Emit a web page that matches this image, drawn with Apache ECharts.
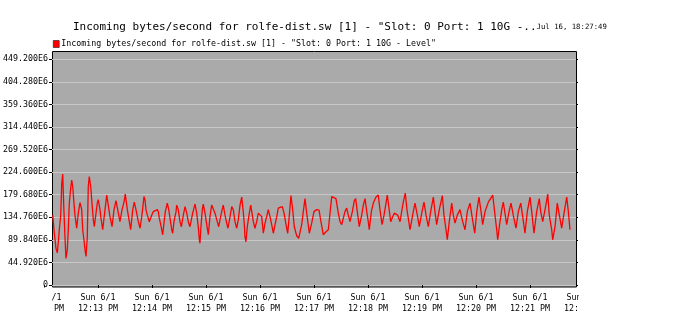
<!DOCTYPE html>
<html><head><meta charset="utf-8">
<script src="https://cdn.jsdelivr.net/npm/echarts@6/dist/echarts.min.js"></script>
<style>html,body{margin:0;padding:0;background:#fff}#c{width:686px;height:333px}</style>
</head><body><div id="c"></div>
<script>
const titleMain = 'Incoming bytes/second for rolfe-dist.sw [1] - "Slot: 0 Port: 1 10G -..';
const titleDate = 'Jul 16, 18:27:49';
const seriesName = 'Incoming bytes/second for rolfe-dist.sw [1] - "Slot: 0 Port: 1 10G - Level"';
const dayLabel = 'Sun 6/1';
const xTickLabels = ['12:12 PM','12:13 PM','12:14 PM','12:15 PM','12:16 PM','12:17 PM','12:18 PM','12:19 PM','12:20 PM','12:21 PM','12:22 PM'];
const yStep = 44920000;
const yMax = 449200000;
// seconds after 12:12:00 PM
const secs = [9.7,11.1,13.3,14.8,15.9,17.0,18.6,19.7,20.8,21.9,23.3,24.4,25.9,27.0,28.1,29.7,30.8,31.9,33.3,34.4,35.6,36.3,38.1,40.0,41.1,41.9,43.0,44.4,45.6,46.7,48.1,49.2,50.3,51.9,53.3,54.8,55.9,57.8,59.2,60.3,62.2,63.3,65.2,67.8,69.7,71.4,73.3,75.6,77.8,80.0,81.9,84.4,86.7,88.9,90.3,92.6,94.8,96.3,98.6,100.3,102.2,104.8,106.7,108.6,109.7,111.1,112.2,113.3,114.8,117.0,119.7,121.4,123.3,125.9,127.0,128.1,129.7,130.8,131.9,133.3,134.8,137.0,138.6,140.0,141.9,143.0,144.4,146.7,147.4,149.2,151.1,152.6,154.8,156.7,158.6,160.3,162.2,165.2,167.8,169.7,171.4,172.6,173.3,174.4,175.9,177.0,178.9,180.8,182.6,184.4,186.3,188.1,190.0,191.9,194.1,195.6,197.4,199.2,201.1,203.0,204.4,206.7,208.6,209.7,210.3,212.2,214.1,215.9,217.8,219.7,221.4,222.6,223.3,224.4,225.9,228.1,229.7,231.1,232.6,234.4,236.3,238.1,240.0,241.9,243.7,245.6,247.4,249.2,251.1,253.0,254.8,256.7,258.6,260.3,262.2,264.8,266.7,268.9,270.8,272.6,274.4,276.3,278.1,280.8,283.0,284.4,286.3,288.1,290.0,291.9,294.8,297.4,300.0,303.0,305.6,307.4,310.3,313.3,315.9,317.8,319.7,321.4,324.4,327.0,328.9,330.8,332.6,334.4,336.3,338.1,340.0,342.6,344.8,346.3,348.1,350.3,353.0,354.8,356.7,358.6,360.3,361.4,363.7,365.9,368.9,371.4,373.3,375.6,377.8,380.0,381.4,383.3,385.2,387.4,389.2,391.1,393.0,395.6,397.4,399.2,401.4,403.3,406.7,410.3,412.2,414.8,417.0,419.7,422.2,424.4,427.0,430.0,432.6,434.4,436.3,439.2,442.6,444.4,446.7,448.1,450.3,453.0,454.8,456.7,459.2,462.2,465.2,467.8,470.3,473.3,475.9,478.6,480.8,483.3,485.6,487.4,490.0,493.7,498.6,501.1,503.0,504.1,505.9,508.6,510.3,513.0,514.1,516.7,518.9,521.4,524.4,527.0,529.7,531.9,534.4,537.0,540.0,541.9,544.4,547.4,550.3,551.9,554.1,556.7,559.7,561.4,564.1,565.2,567.8,570.3,572.6,575.2,577.8,580.8,582.6,584.4];
// values in millions of bytes/second
const valsE6 = [139,110,73,64,85,110,139,202,221,159,96,53,70,110,163,193,209,196,163,139,123,113,143,164,165,150,110,90,70,57,96,196,216,196,163,130,116,143,163,170,150,133,110,150,179,159,136,116,150,168,150,126,150,165,181,150,126,110,150,165,150,126,113,136,153,176,170,150,139,126,139,146,149,150,146,133,120,110,100,123,146,163,150,133,110,103,126,146,159,150,126,116,139,156,143,126,116,143,161,143,116,90,83,116,150,161,143,120,100,136,159,161,143,130,116,130,146,159,139,123,113,136,156,158,150,126,113,130,159,175,146,120,96,86,116,143,159,143,126,113,126,143,146,136,103,123,136,150,136,120,103,120,136,153,156,156,143,120,103,139,178,150,116,98,93,91,120,146,172,143,103,123,146,150,149,129,100,106,110,143,176,179,172,143,126,120,133,146,153,139,126,146,168,172,146,116,139,159,172,146,126,110,146,163,175,179,150,120,139,163,179,153,126,136,143,146,139,126,146,165,183,150,110,146,163,139,116,143,165,140,116,150,175,146,120,150,178,139,110,90,126,163,139,123,139,150,126,110,146,163,133,103,146,175,146,120,146,165,179,139,110,90,116,150,165,133,120,146,163,139,113,146,163,136,103,146,175,146,103,146,172,146,126,150,181,139,110,90,116,163,139,113,143,175,146,110];

const data = secs.map((s, i) => [s, valsE6[i] * 1e6]);
const mono = 'DejaVu Sans Mono';

const chart = echarts.init(document.getElementById('c'), null, {renderer: 'canvas'});
chart.setOption({
  animation: false,
  backgroundColor: '#ffffff',
  title: {
    left: 73, top: 22, padding: 0,
    text: titleMain + '{d|' + titleDate + '}',
    textStyle: {fontFamily: mono, fontSize: 11, fontWeight: 'normal', color: '#000',
      rich: {d: {fontFamily: mono, fontSize: 7.3, color: '#000'}}}
  },
  legend: {
    left: 53, top: 40, itemWidth: 6, itemHeight: 7, itemGap: 0, padding: 0,
    icon: 'rect',
    textStyle: {fontFamily: mono, fontSize: 8.3, color: '#000', padding: [0, 0, 0, -3]},
    data: [{name: seriesName, itemStyle: {color: '#ff0000', borderColor: '#000', borderWidth: 0.5}}]
  },
  graphic: {elements: [
    {type: 'rect', z: -10, shape: {x: 52.5, y: 51.5, width: 524, height: 235.5},
      style: {fill: '#aaaaaa', stroke: '#000', lineWidth: 1}},
    {type: 'rect', z: 100, shape: {x: 0, y: 287.5, width: 52, height: 46}, style: {fill: '#fff'}},
    {type: 'rect', z: 100, shape: {x: 579, y: 280, width: 107, height: 53}, style: {fill: '#fff'}}
  ]},
  grid: [
    {left: 52, right: 110, top: 59.3, bottom: 48},
    {left: 44, right: 102, top: 59.3, bottom: 48}
  ],
  xAxis: [
    {gridIndex: 0, type: 'value', min: 8.89, max: 591.1, show: false},
    {gridIndex: 1, type: 'value', min: 0, max: 600, interval: 60, offset: 2,
      axisLine: {show: false}, splitLine: {show: false},
      axisTick: {show: true, length: 3, lineStyle: {color: '#000'}},
      axisLabel: {show: true, margin: 5, interval: 0, fontFamily: mono, fontSize: 8.3, color: '#000', lineHeight: 11,
        showMinLabel: true, showMaxLabel: true,
        formatter: v => dayLabel + '\n' + xTickLabels[Math.round(v / 60)]}}
  ],
  yAxis: [
    {gridIndex: 0, type: 'value', min: 0, max: yMax, interval: yStep, position: 'left',
      axisLine: {show: false},
      axisTick: {show: true, length: 3, lineStyle: {color: '#000'}},
      splitLine: {show: true, lineStyle: {color: '#c8c8c8', width: 1}},
      axisLabel: {margin: 4, fontFamily: mono, fontSize: 8.3, color: '#000',
        formatter: v => v === 0 ? '0' : (v / 1e6).toFixed(3) + 'E6'}},
    {gridIndex: 0, type: 'value', min: 0, max: yMax, interval: yStep, position: 'right',
      axisLine: {show: false}, splitLine: {show: false}, axisLabel: {show: false},
      axisTick: {show: true, length: 2, lineStyle: {color: '#000'}}},
    {gridIndex: 1, type: 'value', min: 0, max: yMax, show: false}
  ],
  series: [{
    name: seriesName, type: 'line', xAxisIndex: 0, yAxisIndex: 0,
    data: data, showSymbol: false, symbol: 'none',
    lineStyle: {color: '#ff0000', width: 1.3}, itemStyle: {color: '#ff0000'}
  }]
});
</script></body></html>
